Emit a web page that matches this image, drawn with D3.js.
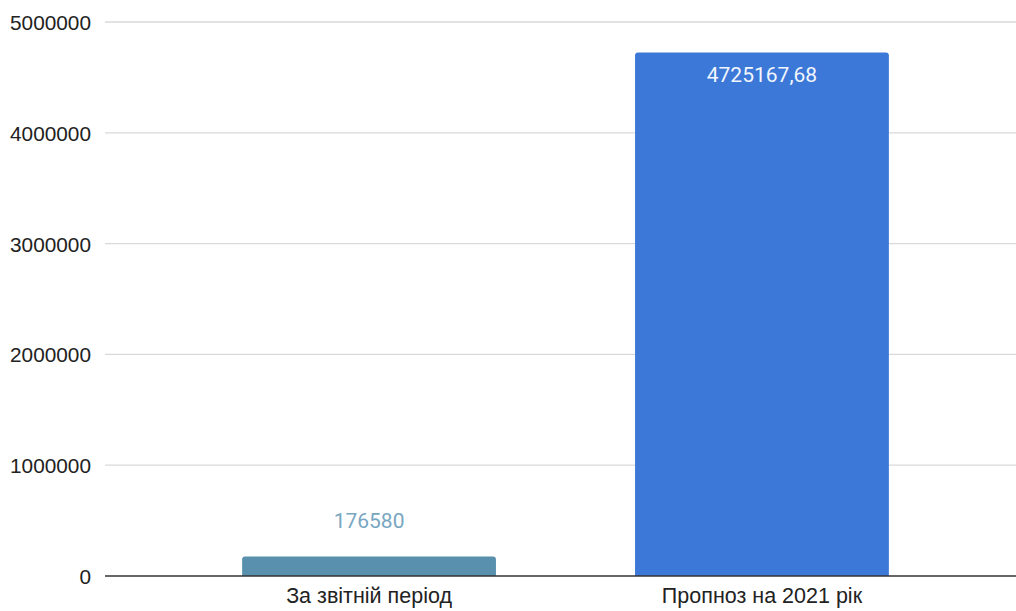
<!DOCTYPE html>
<html>
<head>
<meta charset="utf-8">
<script src="https://cdn.jsdelivr.net/npm/d3@7"></script>
<style>
  html, body { margin: 0; padding: 0; background: #fff; }
  svg { display: block; }
</style>
</head>
<body>
<div id="chart"></div>
<script>
// chart data
var categories = ["За звітній період", "Пропноз на 2021 рік"];
var values = [176580, 4725167.68];
var value_labels = ["176580", "4725167,68"];
var y_ticks = [0, 1000000, 2000000, 3000000, 4000000, 5000000];

var width = 1016, height = 611;
var plot_left = 105, plot_right = 1016;
var y_zero = 576, y_top = 22;

var svg = d3.select("#chart").append("svg")
    .attr("width", width)
    .attr("height", height);

var x = d3.scaleBand()
    .domain(categories)
    .range([plot_left, 1026])
    .paddingInner(0.354)
    .paddingOuter(0.349);

var y = d3.scaleLinear()
    .domain([0, 5000000])
    .range([y_zero, y_top]);

// gridlines
svg.append("g")
    .selectAll("line")
    .data(y_ticks.slice(1))
    .enter().append("line")
    .attr("x1", plot_left)
    .attr("x2", plot_right)
    .attr("y1", function(d) { return y(d); })
    .attr("y2", function(d) { return y(d); })
    .attr("stroke", "#d9d9d9")
    .attr("stroke-width", 1.3);

// y axis labels
var y_axis = d3.axisLeft(y)
    .tickValues(y_ticks)
    .tickSize(0)
    .tickPadding(0)
    .tickFormat(function(d) { return String(d); });

var y_g = svg.append("g")
    .attr("transform", "translate(91,0)")
    .call(y_axis);
y_g.select(".domain").remove();
y_g.selectAll("text")
    .attr("font-family", "'Liberation Sans', Arial, sans-serif")
    .attr("font-size", "20.8px")
    .attr("fill", "#222")
    .attr("dy", "0.36em");

// bars with rounded tops
var colors = ["#5890ae", "#3c78d8"];
function bar_path(x0, w, top, bottom, r)
{
    return "M" + x0 + "," + bottom +
        "V" + (top + r) +
        "Q" + x0 + "," + top + " " + (x0 + r) + "," + top +
        "H" + (x0 + w - r) +
        "Q" + (x0 + w) + "," + top + " " + (x0 + w) + "," + (top + r) +
        "V" + bottom + "Z";
}

svg.append("g")
    .selectAll("path")
    .data(values)
    .enter().append("path")
    .attr("d", function(d, i) {
        return bar_path(x(categories[i]), x.bandwidth(), y(d), y(0), 3);
    })
    .attr("fill", function(d, i) { return colors[i]; });

// zero axis line
svg.append("line")
    .attr("x1", plot_left)
    .attr("x2", plot_right)
    .attr("y1", y(0))
    .attr("y2", y(0))
    .attr("stroke", "#333")
    .attr("stroke-width", 1.5);

// category labels
var x_axis = d3.axisBottom(x).tickSize(0).tickPadding(0);
var x_g = svg.append("g")
    .attr("transform", "translate(0," + y(0) + ")")
    .call(x_axis);
x_g.select(".domain").remove();
x_g.selectAll("text")
    .attr("font-family", "'Liberation Sans', Arial, sans-serif")
    .attr("font-size", "21.5px")
    .attr("fill", "#222")
    .attr("dy", null)
    .attr("y", 27);

// value labels
svg.append("g")
    .selectAll("text")
    .data(values)
    .enter().append("text")
    .attr("x", function(d, i) { return x(categories[i]) + x.bandwidth() / 2; })
    .attr("y", function(d, i) {
        // small bar: label above, tall bar: label inside
        return i == 0 ? y(d) - 28 : y(d) + 30;
    })
    .attr("text-anchor", "middle")
    .attr("font-family", "Roboto, 'Noto Sans', sans-serif")
    .attr("font-size", "21px")
    .attr("fill", function(d, i) { return i == 0 ? "#78a6c1" : "#f2f6fd"; })
    .text(function(d, i) { return value_labels[i]; });
</script>
</body>
</html>
